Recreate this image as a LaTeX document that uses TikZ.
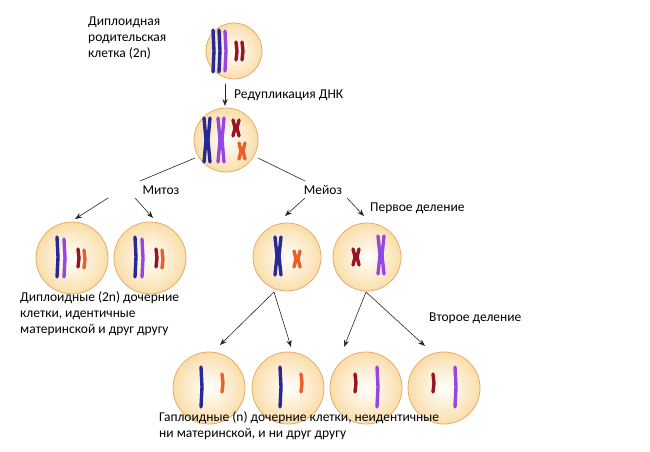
\documentclass[tikz,border=0pt]{standalone}
\usepackage{fontspec}
\setmainfont{Carlito}
\usetikzlibrary{arrows.meta, positioning}
\definecolor{cellfill}{RGB}{250,222,170}
\definecolor{cellrim}{RGB}{232,170,100}
\definecolor{chblue}{RGB}{40,40,150}
\definecolor{chpurple}{RGB}{150,70,225}
\definecolor{chred}{RGB}{150,20,35}
\definecolor{chorange}{RGB}{235,95,40}
\begin{document}
\begin{tikzpicture}[x=1bp, y=-1bp, >=Stealth, line cap=round, line join=round]
	\tikzset{
		cell/.style={inner color=white, outer color=cellfill},
		rim/.style={draw=cellrim, thick},
		link/.style={semithick, gray!30!black},
		arr/.style={semithick, gray!30!black, -{Stealth[length=7pt]}},
		lbl/.style={font=\fontsize{13.5bp}{16bp}\selectfont, align=left, inner sep=1pt},
		chr/.style={line width=3.4pt}
	}
	% single chromatid at x,y with half length
	\newcommand{\chrom}[4]{\draw[chr, #4] (#1,#2-#3) -- (#1+1,#2) -- (#1,#2+#3);}
	% X shaped duplicated chromosome
	\newcommand{\xchrom}[4]{%
		\draw[chr, #4] (#1-3,#2-#3) -- (#1-1,#2) -- (#1-3,#2+#3);
		\draw[chr, #4] (#1+3,#2-#3) -- (#1+1,#2) -- (#1+3,#2+#3);}
	\useasboundingbox (0,0) rectangle (650,452);

	% cells
	\shade[cell] (234,51) circle[radius=28];
	\shade[cell] (226,140) circle[radius=32];
	\foreach \x in {72,150}{\shade[cell] (\x,258) circle[radius=36];}
	\foreach \x in {287,367}{\shade[cell] (\x,257) circle[radius=34];}
	\foreach \x in {209,288,366,444}{\shade[cell] (\x,388) circle[radius=36];}
	\draw[rim] (234,51) circle[radius=28] (226,140) circle[radius=32];
	\foreach \x in {72,150}{\draw[rim] (\x,258) circle[radius=36];}
	\foreach \x in {287,367}{\draw[rim] (\x,257) circle[radius=34];}
	\foreach \x in {209,288,366,444}{\draw[rim] (\x,388) circle[radius=36];}

	% chromosomes, parent cell
	\chrom{213}{51}{21}{chblue}
	\chrom{219}{51}{21}{chblue}
	\chrom{225}{51}{20}{chpurple}
	\chrom{236}{51}{9}{chred}
	\chrom{242}{51}{9}{chred}
	% after replication
	\xchrom{207}{140}{22}{chblue}
	\xchrom{221}{140}{22}{chpurple}
	\xchrom{236}{128}{8}{chred}
	\xchrom{242}{151}{8}{chorange}
	% mitosis daughters
	\foreach \x in {72,150}{
		\chrom{\x-15}{257}{20}{chblue}
		\chrom{\x-8}{258}{19}{chpurple}
		\chrom{\x+6}{258}{9}{chred}
		\chrom{\x+12}{259}{9}{chorange}
	}
	% meiosis I
	\xchrom{278}{256}{19}{chblue}
	\xchrom{297}{259}{8}{chorange}
	\xchrom{356}{257}{8}{chred}
	\xchrom{381}{255}{19}{chpurple}
	% meiosis II
	\chrom{201}{387}{20}{chblue}
	\chrom{222}{383}{9}{chorange}
	\chrom{280}{387}{20}{chblue}
	\chrom{301}{383}{9}{chorange}
	\chrom{355}{383}{9}{chred}
	\chrom{377}{387}{20}{chpurple}
	\chrom{433}{383}{9}{chred}
	\chrom{455}{387}{20}{chpurple}

	% labels
	\node[lbl, anchor=north west] (parent) at (87,16) {Диплоидная\\родительская\\клетка (2n)};
	\node[lbl, anchor=west] (dup) at (233,95) {Редупликация ДНК};
	\node[lbl] (mit) at (161,190) {Митоз};
	\node[lbl] (mei) at (323,190) {Мейоз};
	\node[lbl, anchor=west] (first) at (369,208) {Первое деление};
	\node[lbl, anchor=west] (second) at (428,318) {Второе деление};
	\node[lbl, anchor=north west] (dipl) at (19,290) {Диплоидные (2n) дочерние\\клетки, идентичные\\материнской и друг другу};
	\node[lbl, anchor=north west] (hapl) at (158,410) {Гаплоидные (n) дочерние клетки, неидентичные\\ни материнской, и ни друг другу};

	% connectors
	\coordinate (a0) at (225,84);  \coordinate (a1) at (225,106);
	\draw[arr] (a0) -- (a1);
	\coordinate (l0) at (195,158); \coordinate (l1) at (140,181);
	\coordinate (r0) at (258,158); \coordinate (r1) at (305,181);
	\draw[link] (l0) -- (l1);
	\draw[link] (r0) -- (r1);
	\coordinate (m1) at (108,198); \coordinate (m2) at (75,219);
	\coordinate (m3) at (135,198); \coordinate (m4) at (153,218);
	\draw[arr] (m1) -- (m2);
	\draw[arr] (m3) -- (m4);
	\coordinate (e1) at (305,198); \coordinate (e2) at (285,216);
	\coordinate (e3) at (347,198); \coordinate (e4) at (364,216);
	\draw[arr] (e1) -- (e2);
	\draw[arr] (e3) -- (e4);
	\coordinate (p) at (274,292); \coordinate (q) at (366,292);
	\draw[arr] (p) -- (220,345);
	\draw[arr] (p) -- (291,347);
	\draw[arr] (q) -- (344,347);
	\draw[arr] (q) -- (425,346);
\end{tikzpicture}
\end{document}
